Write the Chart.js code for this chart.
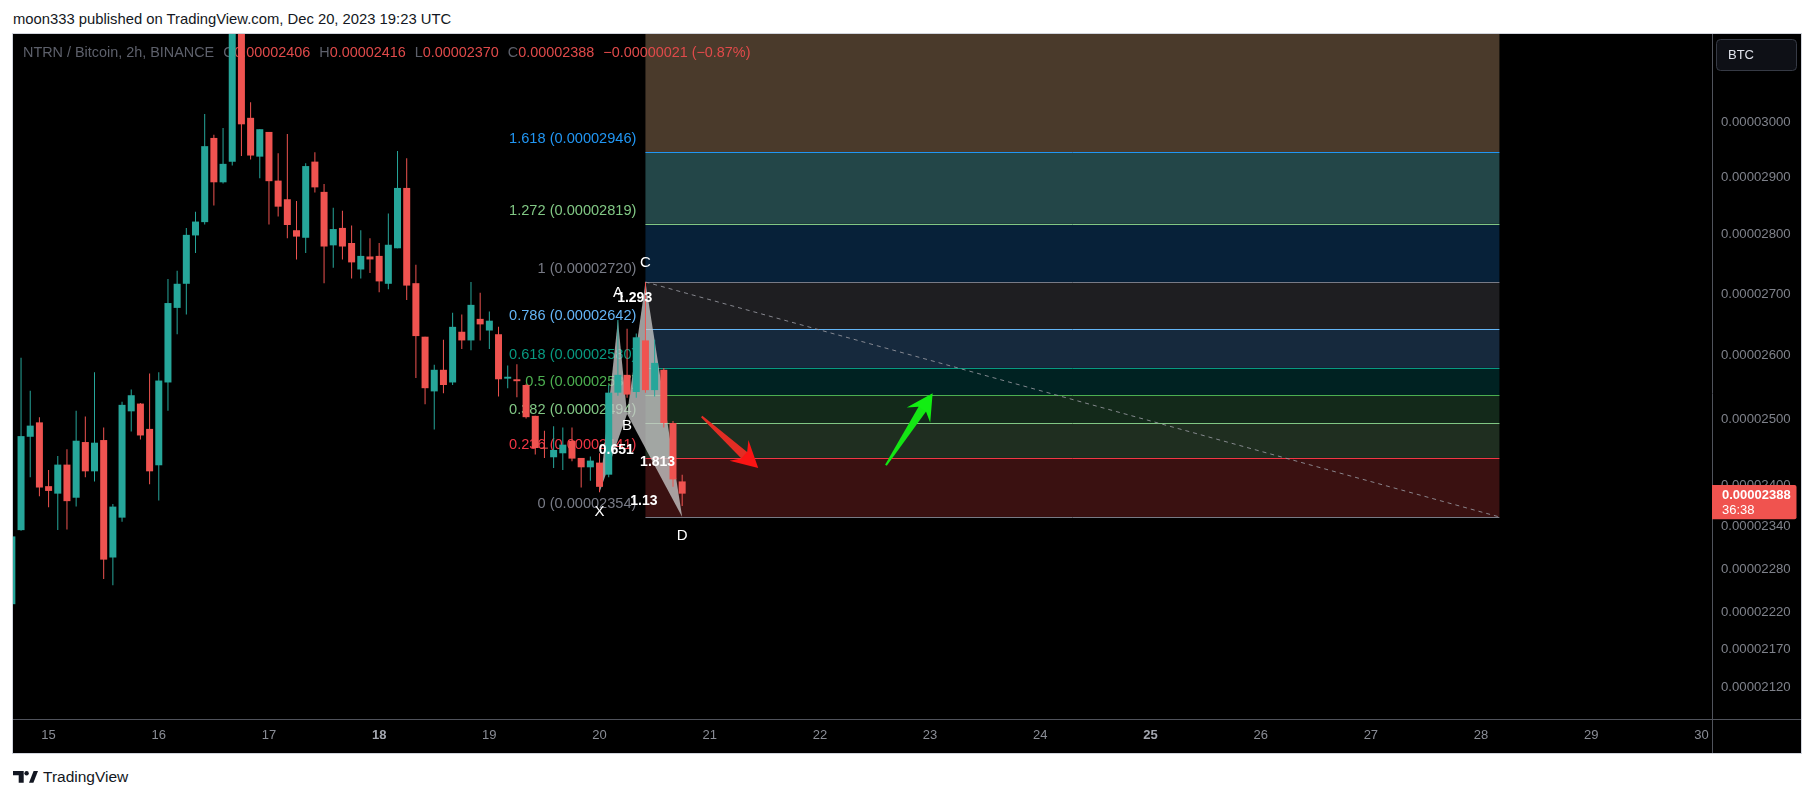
<!DOCTYPE html>
<html>
<head>
<meta charset="utf-8">
<title>NTRN / Bitcoin, 2h</title>
<script src="https://cdn.jsdelivr.net/npm/chart.js@4.4.1/dist/chart.umd.min.js"></script>
<style>
  html, body { margin: 0; padding: 0; background: #fff; }
  body { position: relative; width: 1815px; height: 798px; overflow: hidden; font-family: "Liberation Sans", Arial, sans-serif; }
  #published { position: absolute; left: 13px; top: 10px; font-size: 14.8px; line-height: 18px; color: #131722; white-space: nowrap; }
  #panel { position: absolute; left: 12px; top: 33px; width: 1788px; height: 719px; border: 1px solid #d1d4dc; background: #000; }
  #chart { position: absolute; left: 0; top: 0; }
  #footer { position: absolute; left: 13px; top: 768px; height: 17px; display: flex; align-items: center; font-size: 15.5px; color: #131722; }
  #footer svg { margin-right: 5px; }
</style>
</head>
<body>
<div id="published">moon333 published on TradingView.com, Dec 20, 2023 19:23 UTC</div>
<div id="panel"><canvas id="chart" width="1788" height="719"></canvas></div>
<div id="footer"><svg width="25" height="12" viewBox="0 0 25 12"><path d="M0 0H10.7V11.7H5.7V4.3H0Z" fill="#131722"/><circle cx="13.6" cy="2.2" r="2.2" fill="#131722"/><path d="M16 11.7L20.6 0H25L20.4 11.7Z" fill="#131722"/></svg>TradingView</div>
<script>
// prices are in units of 1e-8 BTC, shown on the axis as BTC
const dayTicks = [15, 16, 17, 18, 19, 20, 21, 22, 23, 24, 25, 26, 27, 28, 29, 30];
const weekStartDays = [18, 25];
const priceTicks = [3000, 2900, 2800, 2700, 2600, 2500, 2400, 2340, 2280, 2220, 2170, 2120];
const timeRange = [14.677, 30.096];     // visible days (Dec)
const priceRange = [2078.9, 3168.2];

const firstBar = 14 + 16 / 24;  // Dec 14 16:00 UTC
const barStep = 2 / 24;         // 2h candles

const opens = [2231, 2335, 2473, 2495, 2399, 2388, 2431, 2382, 2465, 2421,
  2468, 2296, 2353, 2512, 2524, 2485, 2430, 2557, 2677, 2717,
  2799, 2822, 2972, 2892, 2929, 3200, 3009, 2938, 2983, 2895,
  2862, 2808, 2795, 2929, 2875, 2782, 2812, 2786, 2741, 2763,
  2764, 2717, 2777, 2882, 2718, 2630, 2543, 2577, 2557, 2638,
  2624, 2659, 2640, 2634, 2563, 2562, 2553, 2505, 2456, 2442,
  2448, 2467, 2441, 2427, 2434, 2416, 2541, 2569, 2542, 2624,
  2545, 2577, 2494, 2406];
const highs = [2438, 2596, 2544, 2503, 2423, 2444, 2454, 2513, 2504, 2573,
  2487, 2373, 2527, 2546, 2525, 2571, 2573, 2725, 2739, 2812,
  2840, 3016, 2978, 2990, 3260, 3230, 3038, 2988, 2983, 2944,
  2979, 2859, 2926, 2946, 2889, 2847, 2842, 2816, 2808, 2794,
  2786, 2837, 2948, 2935, 2749, 2630, 2585, 2625, 2669, 2666,
  2720, 2702, 2671, 2646, 2584, 2586, 2555, 2505, 2482, 2489,
  2487, 2487, 2441, 2443, 2448, 2553, 2657, 2643, 2635, 2720,
  2625, 2580, 2497, 2416];
const lows = [2229, 2334, 2412, 2384, 2368, 2335, 2336, 2369, 2412, 2406,
  2266, 2257, 2347, 2481, 2469, 2402, 2378, 2513, 2634, 2666,
  2769, 2818, 2851, 2890, 2922, 2939, 2933, 2899, 2818, 2832,
  2794, 2758, 2769, 2874, 2718, 2744, 2758, 2726, 2726, 2735,
  2703, 2708, 2777, 2690, 2564, 2523, 2484, 2540, 2553, 2610,
  2608, 2624, 2610, 2535, 2548, 2534, 2501, 2446, 2441, 2426,
  2423, 2436, 2397, 2407, 2390, 2412, 2536, 2533, 2533, 2541,
  2535, 2487, 2398, 2370];
const closes = [2326, 2474, 2490, 2397, 2392, 2431, 2377, 2467, 2421, 2464,
  2293, 2369, 2522, 2537, 2475, 2421, 2560, 2685, 2717, 2800,
  2823, 2957, 2892, 2925, 3200, 2997, 2940, 2988, 2894, 2849,
  2817, 2797, 2921, 2883, 2780, 2810, 2780, 2753, 2764, 2758,
  2721, 2783, 2882, 2714, 2631, 2548, 2577, 2553, 2646, 2624,
  2682, 2650, 2656, 2562, 2566, 2559, 2503, 2456, 2455, 2453,
  2461, 2440, 2427, 2437, 2398, 2541, 2569, 2538, 2629, 2545,
  2588, 2494, 2409, 2388];
const barCountdown = '36:38';

// Fibonacci retracement (extended), from C to the right
const fibStart = 20 + 10 / 24;
const fibEnd = 28 + 4 / 24;
const fibRatios = ['0', '0.236', '0.382', '0.5', '0.618', '0.786', '1', '1.272', '1.618'];
const fibPrices = [2354, 2441, 2494, 2537, 2580, 2642, 2720, 2819, 2946];
const fibTopPrice = 3312;   // next level (2.618), above the visible range
const fibLineColors = ['#787b86', '#f23645', '#81c784', '#4caf50', '#089981', '#64b5f6', '#787b86', '#81c784', '#2196f3'];
const fibZoneColors = ['#3a1111', '#1f2e20', '#13291a', '#002222', '#16293d', '#1e1e21', '#072139', '#234648', '#4a3a2b'];

// XABCD pattern
const patternNames = ['X', 'A', 'B', 'C', 'D'];
const patternTimes = [20, 20 + 4 / 24, 20 + 6 / 24, 20 + 10 / 24, 20 + 18 / 24];
const patternPrices = [2390, 2657, 2508, 2720, 2354];
const patternLabelShift = [20, -27, 12, -19, 19];
const ratioFrom = [0, 1, 2, 0];
const ratioTo = [2, 3, 4, 4];
const ratioTexts = ['0.651', '1.293', '1.813', '1.13'];

// arrow markers
const redArrowTimes = [20.927, 21.44];
const redArrowPrices = [2504, 2426];
const greenArrowTimes = [22.599, 23.023];
const greenArrowPrices = [2430, 2540];

const UP = '#26a69a';
const DOWN = '#ef5350';
const FONT = '"Liberation Sans", Arial, sans-serif';
const fmt = v => (v / 1e8).toFixed(8);

const times = opens.map((_, i) => firstBar + i * barStep);
const candleColors = opens.map((o, i) => (closes[i] >= o ? UP : DOWN));

function clipArea(ctx, a) {
  ctx.beginPath();
  ctx.rect(a.left, a.top, a.width, a.height);
  ctx.clip();
}

function patternPoints(x, y) {
  return patternTimes.map((t, i) => [x.getPixelForValue(t), y.getPixelForValue(patternPrices[i])]);
}

function drawLegend(ctx) {
  const n = closes.length - 1;
  const chg = closes[n] - closes[n - 1];
  const sign = chg < 0 ? '\u2212' : '+';
  const pct = Math.abs(chg) / closes[n - 1] * 100;
  const gray = '#5d606b', red = '#e04a4a';
  const parts = [
    ['NTRN / Bitcoin, 2h, BINANCE', gray, 9],
    ['O', gray, 0], [fmt(opens[n]), red, 9],
    ['H', gray, 0], [fmt(highs[n]), red, 9],
    ['L', gray, 0], [fmt(lows[n]), red, 9],
    ['C', gray, 0], [fmt(closes[n]), red, 9],
    [sign + fmt(Math.abs(chg)) + ' (' + sign + pct.toFixed(2) + '%)', red, 0]
  ];
  ctx.font = '14.4px ' + FONT;
  ctx.textAlign = 'left';
  ctx.textBaseline = 'middle';
  let xx = 10;
  parts.forEach(([t, c, gap]) => {
    ctx.fillStyle = c;
    ctx.fillText(t, xx, 19);
    xx += ctx.measureText(t).width + gap;
  });
}

const underlayPlugin = {
  id: 'underlay',
  beforeDatasetsDraw(chart) {
    const { ctx, chartArea: a, scales: { x, y } } = chart;
    ctx.save();
    clipArea(ctx, a);
    const x0 = x.getPixelForValue(fibStart);
    const x1 = x.getPixelForValue(fibEnd);
    const tops = fibPrices.slice(1).concat([fibTopPrice]);
    fibPrices.forEach((p, i) => {
      const yb = y.getPixelForValue(p), yt = y.getPixelForValue(tops[i]);
      ctx.fillStyle = fibZoneColors[i];
      ctx.fillRect(x0, yt, x1 - x0, yb - yt);
    });
    ctx.lineWidth = 1;
    fibPrices.forEach((p, i) => {
      const yy = Math.round(y.getPixelForValue(p)) + 0.5;
      ctx.strokeStyle = fibLineColors[i];
      ctx.beginPath();
      ctx.moveTo(x0, yy);
      ctx.lineTo(x1, yy);
      ctx.stroke();
    });
    ctx.font = '14.6px ' + FONT;
    ctx.textAlign = 'right';
    ctx.textBaseline = 'middle';
    fibPrices.forEach((p, i) => {
      ctx.fillStyle = fibLineColors[i];
      ctx.fillText(fibRatios[i] + ' (' + fmt(p) + ')', x0 - 9, y.getPixelForValue(p) - 13);
    });
    // pattern triangles XAB and BCD
    const pts = patternPoints(x, y);
    ctx.fillStyle = 'rgba(200,200,200,0.78)';
    [[0, 1, 2], [2, 3, 4]].forEach(tri => {
      ctx.beginPath();
      tri.forEach((k, j) => (j ? ctx.lineTo(pts[k][0], pts[k][1]) : ctx.moveTo(pts[k][0], pts[k][1])));
      ctx.closePath();
      ctx.fill();
    });
    ctx.restore();
    // symbol legend sits above the drawings, below the candles
    ctx.save();
    drawLegend(ctx);
    ctx.restore();
  }
};

function drawArrow(ctx, xa, ya, xb, yb, shaftColor, headColor) {
  const dx = xb - xa, dy = yb - ya, len = Math.hypot(dx, dy);
  const ux = dx / len, uy = dy / len, nx = -uy, ny = ux;
  const headLen = 24, headHalf = 14, shaftHalf = 4.5, tailHalf = 1;
  const bx = xb - ux * headLen, by = yb - uy * headLen;
  const sx = bx + ux * 7, sy = by + uy * 7;
  ctx.fillStyle = shaftColor;
  ctx.beginPath();
  ctx.moveTo(xa + nx * tailHalf, ya + ny * tailHalf);
  ctx.lineTo(sx + nx * shaftHalf, sy + ny * shaftHalf);
  ctx.lineTo(sx - nx * shaftHalf, sy - ny * shaftHalf);
  ctx.lineTo(xa - nx * tailHalf, ya - ny * tailHalf);
  ctx.closePath();
  ctx.fill();
  ctx.fillStyle = headColor;
  ctx.beginPath();
  ctx.moveTo(xb, yb);
  ctx.lineTo(bx + nx * headHalf - ux * 2, by + ny * headHalf - uy * 2);
  ctx.lineTo(bx + ux * 5 + nx * shaftHalf, by + uy * 5 + ny * shaftHalf);
  ctx.lineTo(bx + ux * 5 - nx * shaftHalf, by + uy * 5 - ny * shaftHalf);
  ctx.lineTo(bx - nx * headHalf - ux * 2, by - ny * headHalf - uy * 2);
  ctx.closePath();
  ctx.fill();
}

const overlayPlugin = {
  id: 'overlay',
  afterDatasetsDraw(chart) {
    const { ctx, chartArea: a, scales: { x, y } } = chart;
    ctx.save();
    clipArea(ctx, a);
    // trend line from C to the end of the fib zone
    ctx.strokeStyle = 'rgba(150,152,160,0.85)';
    ctx.lineWidth = 1;
    ctx.setLineDash([4, 4]);
    ctx.beginPath();
    ctx.moveTo(x.getPixelForValue(fibStart), y.getPixelForValue(fibPrices[6]));
    ctx.lineTo(x.getPixelForValue(fibEnd), y.getPixelForValue(fibPrices[0]));
    ctx.stroke();
    ctx.setLineDash([]);

    drawArrow(ctx, x.getPixelForValue(redArrowTimes[0]), y.getPixelForValue(redArrowPrices[0]),
      x.getPixelForValue(redArrowTimes[1]), y.getPixelForValue(redArrowPrices[1]), '#e22d24', '#fb1414');
    drawArrow(ctx, x.getPixelForValue(greenArrowTimes[0]), y.getPixelForValue(greenArrowPrices[0]),
      x.getPixelForValue(greenArrowTimes[1]), y.getPixelForValue(greenArrowPrices[1]), '#14e614', '#12ee12');

    const pts = patternPoints(x, y);
    ctx.fillStyle = '#ffffff';
    ctx.textAlign = 'center';
    ctx.textBaseline = 'middle';
    ctx.font = '15px ' + FONT;
    patternNames.forEach((nm, i) => ctx.fillText(nm, pts[i][0], pts[i][1] + patternLabelShift[i]));
    ctx.font = 'bold 14px ' + FONT;
    ratioTexts.forEach((t, i) => {
      const p = pts[ratioFrom[i]], q = pts[ratioTo[i]];
      ctx.fillText(t, (p[0] + q[0]) / 2 + 3, (p[1] + q[1]) / 2 - 3);
    });
    ctx.restore();
  }
};

const axisPlugin = {
  id: 'axisBadges',
  afterDraw(chart) {
    const { ctx, chartArea: a, scales: { y }, width, height } = chart;
    ctx.save();
    // pane separators
    ctx.strokeStyle = '#50535c';
    ctx.lineWidth = 1;
    ctx.beginPath();
    ctx.moveTo(0, a.bottom + 0.5);
    ctx.lineTo(width, a.bottom + 0.5);
    ctx.moveTo(a.right + 0.5, 0);
    ctx.lineTo(a.right + 0.5, height);
    ctx.stroke();
    // currency box
    ctx.fillStyle = '#0e1016';
    ctx.strokeStyle = '#363a45';
    ctx.beginPath();
    ctx.roundRect(a.right + 4.5, 5.5, 80, 31, 4);
    ctx.fill();
    ctx.stroke();
    ctx.fillStyle = '#e0e3eb';
    ctx.font = '13px ' + FONT;
    ctx.textAlign = 'left';
    ctx.textBaseline = 'middle';
    ctx.fillText('BTC', a.right + 16, 21);
    // last price label
    const n = closes.length - 1;
    const py = y.getPixelForValue(closes[n]);
    ctx.fillStyle = '#f0534f';
    ctx.beginPath();
    ctx.roundRect(a.right, py - 8.7, 84.5, 34.3, [0, 2, 2, 0]);
    ctx.fill();
    ctx.fillStyle = '#ffffff';
    ctx.font = 'bold 13px ' + FONT;
    ctx.fillText(fmt(closes[n]), a.right + 10, py + 2);
    ctx.font = '13px ' + FONT;
    ctx.fillText(barCountdown, a.right + 10, py + 17);
    ctx.restore();
  }
};

new Chart(document.getElementById('chart'), {
  type: 'bar',
  data: {
    datasets: [
      {
        label: 'wicks',
        data: times.map((t, i) => ({ x: t, y: [lows[i], highs[i]] })),
        backgroundColor: candleColors,
        barThickness: 1,
        inflateAmount: 0,
        grouped: false,
        order: 2
      },
      {
        label: 'bodies',
        data: times.map((t, i) => ({ x: t, y: [opens[i], closes[i]] })),
        backgroundColor: candleColors,
        barThickness: 7,
        minBarLength: 1,
        inflateAmount: 0,
        grouped: false,
        order: 1
      }
    ]
  },
  options: {
    responsive: false,
    animation: false,
    events: [],
    layout: { padding: 0, autoPadding: false },
    plugins: { legend: { display: false }, tooltip: { enabled: false } },
    scales: {
      x: {
        type: 'linear',
        min: timeRange[0],
        max: timeRange[1],
        bounds: 'data',
        offset: false,
        grid: { display: false, drawTicks: false, offset: false },
        border: { display: false },
        afterFit: s => { s.height = 34; s.paddingLeft = 0; s.paddingRight = 0; },
        afterBuildTicks: s => { s.ticks = dayTicks.map(v => ({ value: v })); },
        ticks: {
          autoSkip: false,
          maxRotation: 0,
          padding: 9,
          color: c => (weekStartDays.includes(c.tick && c.tick.value) ? '#a3a6af' : '#8a8d96'),
          font: c => ({ family: FONT, size: 13, weight: weekStartDays.includes(c.tick && c.tick.value) ? 'bold' : 'normal' }),
          callback: v => String(v)
        }
      },
      y: {
        type: 'logarithmic',
        position: 'right',
        min: priceRange[0],
        max: priceRange[1],
        bounds: 'data',
        grid: { display: false, drawTicks: false },
        border: { display: false },
        afterFit: s => { s.width = 89; s.paddingTop = 0; s.paddingBottom = 0; },
        afterBuildTicks: s => { s.ticks = priceTicks.map(v => ({ value: v })); },
        ticks: {
          autoSkip: false,
          padding: 9,
          color: '#7f828b',
          font: { family: FONT, size: 13.2 },
          callback: v => fmt(v)
        }
      }
    }
  },
  plugins: [underlayPlugin, overlayPlugin, axisPlugin]
});
</script>
</body>
</html>
